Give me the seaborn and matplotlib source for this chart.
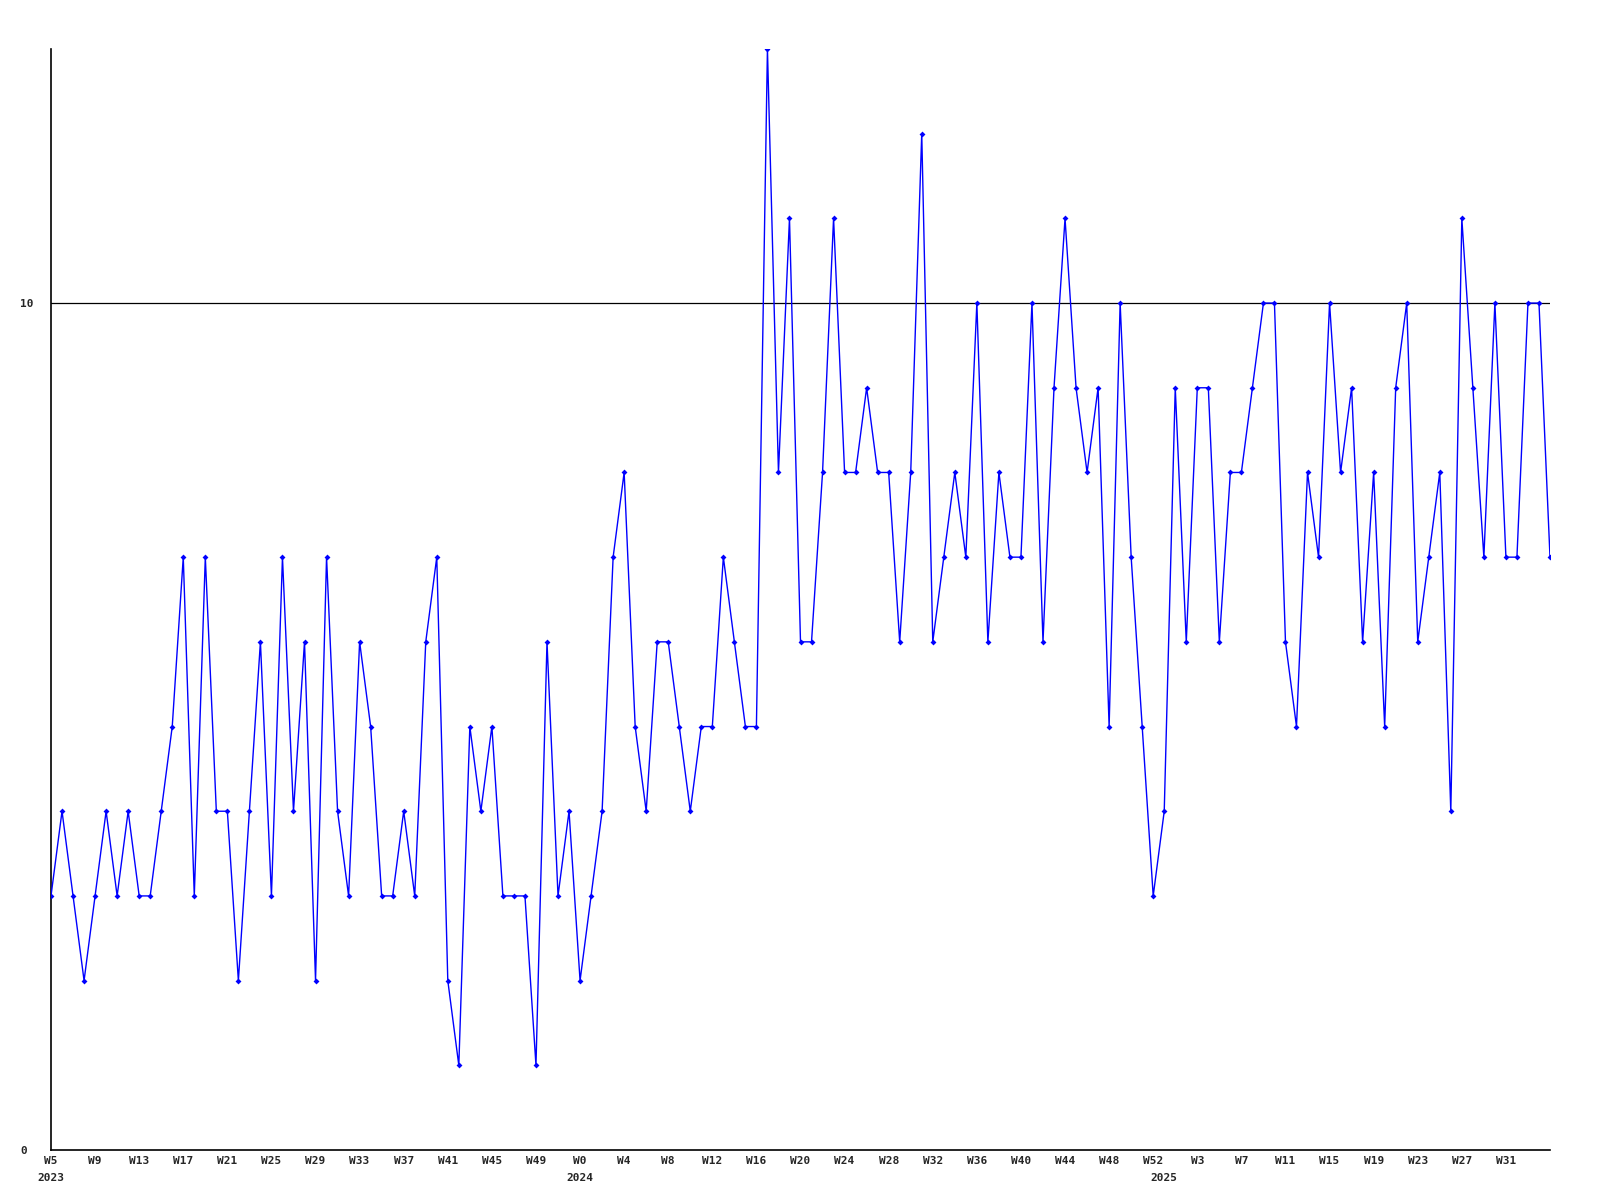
import numpy as np
import pandas as pd
import matplotlib
matplotlib.use('Agg')
import matplotlib.pyplot as plt
import matplotlib.transforms as mtransforms
import seaborn as sns

# weekly counts, 2023 W5 .. 2025 W35
years = [2023] * 48 + [2024] * 53 + [2025] * 36
weeks = list(range(5, 53)) + list(range(0, 53)) + list(range(0, 36))
counts = [
    3, 4, 3, 2, 3, 4, 3, 4, 3, 3, 4, 5, 7, 3, 7, 4, 4, 2, 4, 6,
    3, 7, 4, 6, 2, 7, 4, 3, 6, 5, 3, 3, 4, 3, 6, 7, 2, 1, 5, 4,
    5, 3, 3, 3, 1, 6, 3, 4, 2, 3, 4, 7, 8, 5, 4, 6, 6, 5, 4, 5,
    5, 7, 6, 5, 5, 13, 8, 11, 6, 6, 8, 11, 8, 8, 9, 8, 8, 6, 8, 12,
    6, 7, 8, 7, 10, 6, 8, 7, 7, 10, 6, 9, 11, 9, 8, 9, 5, 10, 7, 5,
    3, 4, 9, 6, 9, 9, 6, 8, 8, 9, 10, 10, 6, 5, 8, 7, 10, 8, 9, 6,
    8, 5, 9, 10, 6, 7, 8, 4, 11, 9, 7, 10, 7, 7, 10, 10, 7,
]
y_ticks = [0, 10]

df = pd.DataFrame({'year': years, 'week': weeks, 'count': counts})
df['pos'] = np.arange(len(df))

sns.set_style('white')
plt.rcParams['font.family'] = ['DejaVu Sans Mono']
plt.rcParams['font.weight'] = 'bold'

fig = plt.figure(figsize=(16, 12), dpi=100)
ax = fig.add_axes([51 / 1600, 1 - 1150 / 1200, (1550 - 51) / 1600, (1150 - 49) / 1200])

ax.axhline(10, color='black', lw=0.9, zorder=1)
sns.lineplot(data=df, x='pos', y='count', color='#0000ff', lw=1.0,
             marker='D', markersize=3, markeredgewidth=0, ax=ax, zorder=3)

ax.set_xlim(0, len(df) - 1)
ax.set_ylim(0, df['count'].max())

# x ticks every 4 weeks (last week at the edge has no label)
ticks = df.iloc[:-1:4]
ax.set_xticks(ticks['pos'])
ax.set_xticklabels([f'W{w}' for w in ticks['week']], fontsize=8, fontweight='bold')
ax.tick_params(axis='x', length=0, pad=4)

ax.set_yticks(y_ticks)
ax.set_yticklabels([str(v) for v in y_ticks], fontsize=8, fontweight='bold', ha='left')
ax.tick_params(axis='y', length=0, pad=22)

# year labels under the first week of each year
trans = mtransforms.blended_transform_factory(ax.transData, ax.transAxes)
for yr, grp in df.groupby('year'):
    ax.text(grp['pos'].iloc[0], -0.021, str(yr), transform=trans, ha='center', va='top',
            fontsize=8, fontweight='bold')

ax.set_xlabel('')
ax.set_ylabel('')
for side in ['top', 'right']:
    ax.spines[side].set_visible(False)
for side in ['left', 'bottom']:
    ax.spines[side].set_color('black')
    ax.spines[side].set_linewidth(1.2)
ax.grid(False)

fig.savefig('out.png', dpi=100)
